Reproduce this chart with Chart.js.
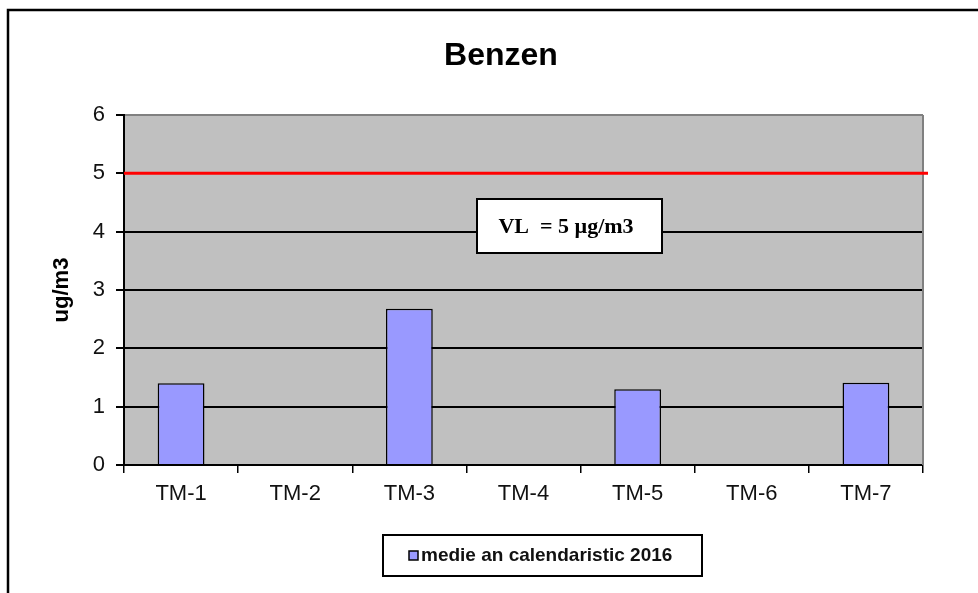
<!DOCTYPE html>
<html>
<head>
<meta charset="utf-8">
<script src="https://cdn.jsdelivr.net/npm/chart.js@4.4.0/dist/chart.umd.min.js"></script>
<style>
  html, body { margin: 0; padding: 0; background: #fff; }
  #wrap { width: 978px; height: 593px; }
</style>
</head>
<body>
<div id="wrap"><canvas id="chart" width="978" height="593"></canvas></div>
<script>
'use strict';

/* ─── Data ───────────────────────────────────────────────── */
const categories = ['TM-1', 'TM-2', 'TM-3', 'TM-4', 'TM-5', 'TM-6', 'TM-7'];
const medieAnuala = [1.4, null, 2.68, null, 1.3, null, 1.41];
const yTicks = [0, 1, 2, 3, 4, 5, 6];
const LIMIT = 5;
const chartTitle = 'Benzen';
const seriesLabel = 'medie an calendaristic 2016';
const limitLabel = 'VL  = 5 µg/m3';

const SANS = "'Liberation Sans', Arial, sans-serif";
const SERIF = "'Liberation Serif', 'Times New Roman', serif";
const BAR_COLOR = '#9999FF';

/* ─── Extra drawing: plot bg, limit line, note, legend, frame ─ */
const decor = {
  id: 'decor',
  beforeDraw(chart) {
    const { ctx, chartArea: a } = chart;
    ctx.save();
    ctx.fillStyle = '#fff';
    ctx.fillRect(0, 0, chart.width, chart.height);
    ctx.fillStyle = '#C0C0C0';
    ctx.fillRect(a.left, a.top, a.right - a.left, a.bottom - a.top);
    // title (centred on the whole Excel chart object, not the canvas)
    ctx.fillStyle = '#000';
    ctx.font = 'bold 32px ' + SANS;
    ctx.textAlign = 'center';
    ctx.textBaseline = 'middle';
    ctx.fillText(chartTitle, 501, 56);
    ctx.restore();
  },
  afterDatasetsDraw(chart) {
    const { ctx, chartArea: a, scales } = chart;
    ctx.save();
    // right edge of plot area
    ctx.strokeStyle = '#808080';
    ctx.lineWidth = 2;
    ctx.beginPath();
    ctx.moveTo(a.right, a.top);
    ctx.lineTo(a.right, a.bottom);
    ctx.stroke();

    // limit value line
    const yl = scales.y.getPixelForValue(LIMIT);
    ctx.strokeStyle = '#FF0000';
    ctx.lineWidth = 3;
    ctx.beginPath();
    ctx.moveTo(a.left, yl);
    ctx.lineTo(a.right + 5, yl);
    ctx.stroke();

    // note box
    ctx.fillStyle = '#fff';
    ctx.fillRect(477, 199, 185, 54);
    ctx.strokeStyle = '#000';
    ctx.lineWidth = 2;
    ctx.strokeRect(477, 199, 185, 54);
    ctx.fillStyle = '#000';
    ctx.font = 'bold 22px ' + SERIF;
    ctx.textAlign = 'center';
    ctx.textBaseline = 'middle';
    ctx.fillText(limitLabel, 566, 227);
    ctx.restore();
  },
  afterDraw(chart) {
    const { ctx } = chart;
    const ds = chart.data.datasets[0];
    ctx.save();
    // legend
    ctx.strokeStyle = '#000';
    ctx.lineWidth = 2;
    ctx.strokeRect(383, 535, 319, 41);
    ctx.fillStyle = ds.backgroundColor;
    ctx.fillRect(409, 551, 9, 9);
    ctx.lineWidth = 1.5;
    ctx.strokeRect(409, 551, 9, 9);
    ctx.fillStyle = '#111';
    ctx.font = 'bold 19px ' + SANS;
    ctx.textAlign = 'left';
    ctx.textBaseline = 'middle';
    ctx.fillText(ds.label, 421, 556);
    // outer frame
    ctx.lineWidth = 2.5;
    ctx.strokeRect(8, 10, 1000, 700);
    ctx.restore();
  },
};

new Chart(document.getElementById('chart'), {
  type: 'bar',
  data: {
    labels: categories,
    datasets: [{
      label: seriesLabel,
      data: medieAnuala,
      backgroundColor: BAR_COLOR,
      borderColor: '#000',
      borderWidth: 1.5,
      barPercentage: 0.41,
      categoryPercentage: 1,
    }],
  },
  options: {
    responsive: false,
    animation: false,
    devicePixelRatio: 1,
    layout: { padding: { left: 0, right: 55, top: 115, bottom: 88 } },
    plugins: {
      legend: { display: false },
      tooltip: { enabled: false },
      title: { display: false },
    },
    scales: {
      x: {
        afterFit: (s) => { s.height = 40; },
        grid: { offset: true, drawOnChartArea: false, tickLength: 8, color: '#000', lineWidth: 1.5 },
        border: { color: '#000', width: 2 },
        ticks: { color: '#111', font: { family: SANS, size: 22 }, padding: 8 },
      },
      y: {
        min: 0,
        max: 6,
        afterBuildTicks: (s) => { s.ticks = yTicks.map(v => ({ value: v })); },
        afterFit: (s) => { s.width = 124; },
        grid: {
          color: (c) => (c.tick && c.tick.value === 6 ? '#808080' : '#000'),
          tickColor: '#000',
          lineWidth: 2,
          tickLength: 8,
        },
        border: { color: '#000', width: 2 },
        ticks: { color: '#111', font: { family: SANS, size: 22 }, padding: 11 },
        title: {
          display: true,
          text: 'ug/m3',
          color: '#000',
          font: { family: SANS, size: 22, weight: 'bold' },
          padding: { top: 49 },
        },
      },
    },
  },
  plugins: [decor],
});
</script>
</body>
</html>
